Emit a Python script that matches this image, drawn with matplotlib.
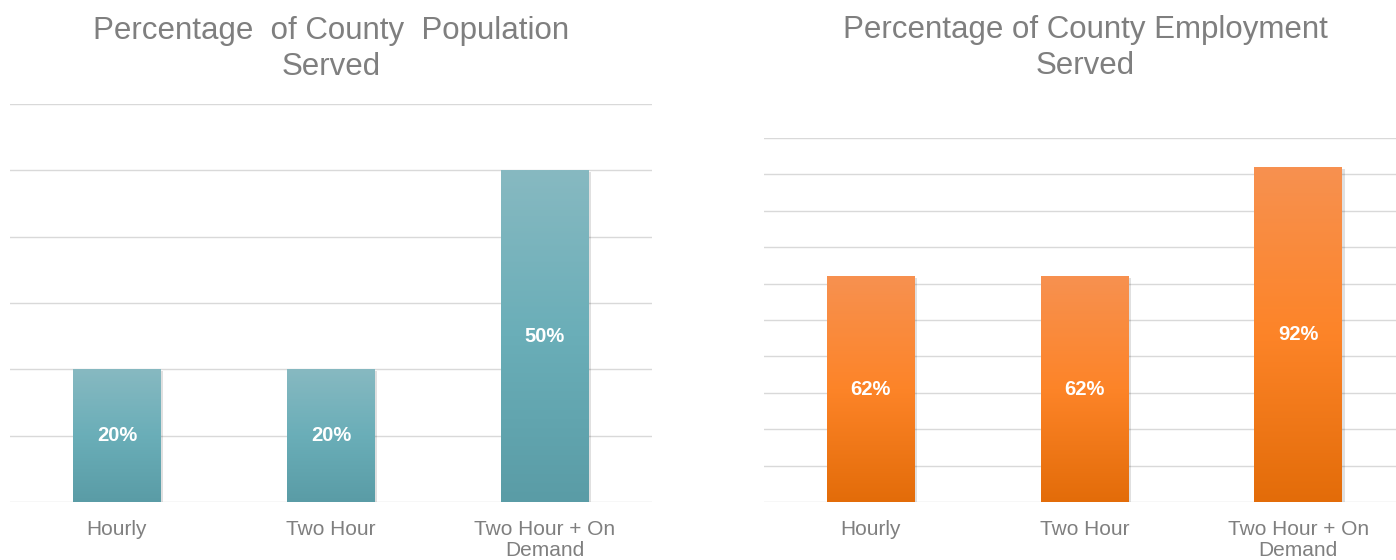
import numpy as np
import matplotlib.pyplot as plt
from matplotlib.colors import LinearSegmentedColormap
from matplotlib.patches import Rectangle

plt.rcParams['font.family'] = ['Liberation Sans', 'DejaVu Sans']

categories = ['Hourly', 'Two Hour', 'Two Hour + On\nDemand']
population_pct = [20, 20, 50]
employment_pct = [62, 62, 92]

teal = LinearSegmentedColormap.from_list('teal', ['#5A9CA6', '#6AAEB8', '#87B9C1'])
orange = LinearSegmentedColormap.from_list('orange', ['#E36C09', '#FD8428', '#F79150'])

fig = plt.figure(figsize=(13.96, 5.6), dpi=100)
ax1 = fig.add_axes([0.00716, 0.1036, 0.4599, 0.7107])
ax2 = fig.add_axes([0.5473, 0.1036, 0.4592, 0.65])


def draw_panel(ax, values, cmap, ymax, step, title, title_y, title_x):
    x = np.arange(len(values))
    width = 0.41
    ax.set_xlim(-0.5, len(values) - 0.5)
    ax.set_ylim(0, ymax)
    for yv in np.arange(0, ymax + step / 2, step):
        ax.axhline(yv, color='#D9D9D9', lw=1.0, zorder=0)
    grad = np.linspace(0, 1, 256).reshape(-1, 1)
    for xi, v in zip(x, values):
        # soft shadow
        sh = Rectangle((xi - width / 2 + 0.012, -ymax * 0.004), width, v,
                       facecolor='#000000', alpha=0.12, lw=0, zorder=1)
        ax.add_patch(sh)
        rect = Rectangle((xi - width / 2, 0), width, v, facecolor='none', lw=0, zorder=2)
        ax.add_patch(rect)
        im = ax.imshow(grad, cmap=cmap, aspect='auto', origin='lower',
                       extent=(xi - width / 2, xi + width / 2, 0, v), zorder=2)
        im.set_clip_path(rect)
        ax.text(xi, v / 2, f'{v}%', ha='center', va='center', color='white',
                fontsize=14.5, fontweight='bold', zorder=3)
    ax.set_xlim(-0.5, len(values) - 0.5)
    ax.set_ylim(0, ymax)
    ax.set_xticks(x)
    ax.set_xticklabels(categories, fontsize=15, color='#7F7F7F', linespacing=1.12)
    ax.tick_params(axis='x', length=0, pad=13)
    ax.set_yticks([])
    for s in ax.spines.values():
        s.set_visible(False)
    fig.text(title_x, title_y, title, ha='center', va='top',
             fontsize=22.5, color='#7F7F7F', linespacing=1.28)


draw_panel(ax1, population_pct, teal, 60, 10,
           'Percentage  of County  Population\nServed', 0.972, 331 / 1396)
draw_panel(ax2, employment_pct, orange, 100, 10,
           'Percentage of County Employment\nServed', 0.974, 1085 / 1396)

fig.savefig('out.png', dpi=100)
